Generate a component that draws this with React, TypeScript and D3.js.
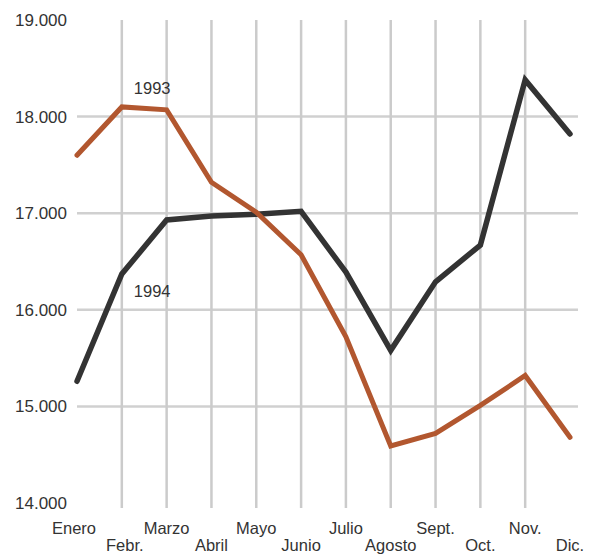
import React from 'react';
import * as d3 from 'd3';

const months = ['Enero', 'Febr.', 'Marzo', 'Abril', 'Mayo', 'Junio', 'Julio', 'Agosto', 'Sept.', 'Oct.', 'Nov.', 'Dic.'];
const values1993 = [17600, 18100, 18070, 17320, 17010, 16570, 15720, 14590, 14720, 15010, 15320, 14680];
const values1994 = [15260, 16370, 16930, 16970, 16990, 17020, 16390, 15580, 16290, 16670, 18380, 17820];
const yTicks = [14000, 15000, 16000, 17000, 18000, 19000];
const gridValues = [15000, 16000, 17000, 18000];

const W = 597;
const H = 556;

// Spanish style thousands: 19.000
const fmt = d3.formatLocale({ decimal: ',', thousands: '.', grouping: [3], currency: ['', ''] }).format(',d');

const App: React.FC = () => {
  const x = d3.scalePoint<string>().domain(months).range([77, 570]);
  const y = d3.scaleLinear().domain([14000, 19000]).range([503, 20]);

  const line = d3
    .line<number>()
    .x((_, i) => x(months[i])!)
    .y((d) => y(d));

  const gridMonths = months.slice(1, 11);

  return (
    <svg
      width={W}
      height={H}
      style={{ position: 'absolute', left: 0, top: 0, background: '#fff', fontFamily: 'Liberation Sans, Arial, sans-serif' }}
    >
      {/* grid */}
      {gridValues.map((v) => (
        <line key={v} x1={77} x2={578} y1={y(v)} y2={y(v)} stroke="#d0d0d0" strokeWidth={2.5} />
      ))}
      {gridMonths.map((m) => (
        <line key={m} x1={x(m)} x2={x(m)} y1={20} y2={508} stroke="#cbcbcb" strokeWidth={2.5} />
      ))}

      {/* y labels */}
      {yTicks.map((v) => (
        <text key={v} x={67} y={y(v)} dy="0.35em" textAnchor="end" fontSize={17} fill="#333">
          {fmt(v)}
        </text>
      ))}

      {/* x labels */}
      {months.map((m, i) => (
        <text
          key={m}
          x={x(m)! + (i === 0 ? -3 : i === 1 ? 3 : 0)}
          y={i % 2 === 0 ? 528 : 545}
          dy="0.35em"
          textAnchor="middle"
          fontSize={16.5}
          fill="#333"
        >
          {m}
        </text>
      ))}

      {/* series */}
      <path d={line(values1994) ?? ''} fill="none" stroke="#333" strokeWidth={5.5} strokeLinejoin="miter" strokeLinecap="round" />
      <path d={line(values1993) ?? ''} fill="none" stroke="#b2572f" strokeWidth={5} strokeLinejoin="miter" strokeLinecap="round" />

      <text x={x('Febr.')! + 12} y={88} dy="0.35em" fontSize={16.5} fill="#333">1993</text>
      <text x={x('Febr.')! + 12} y={291} dy="0.35em" fontSize={16.5} fill="#333">1994</text>
    </svg>
  );
};

export default App;
